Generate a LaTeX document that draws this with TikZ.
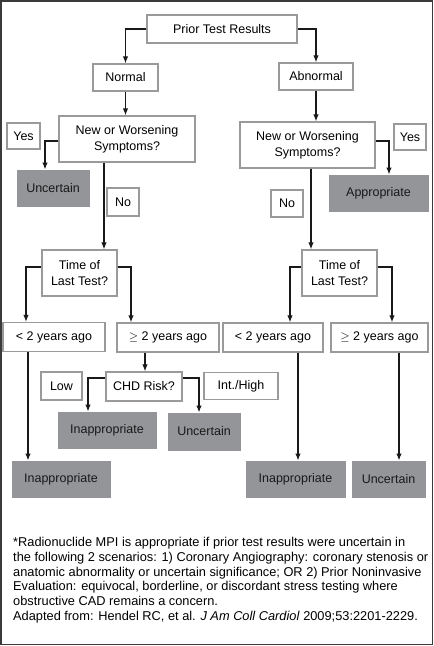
\documentclass[tikz,border=0pt]{standalone}
\usepackage{fontspec}
\setmainfont{Liberation Sans}
\usepackage{tikz}
\usetikzlibrary{arrows.meta}

\definecolor{boxline}{HTML}{9A9A9A}
\definecolor{resgray}{HTML}{939598}
\definecolor{frame}{HTML}{3A3A3A}

\begin{document}
\begin{tikzpicture}[x=1pt,y=-1pt,>={Latex[length=7pt,width=5.5pt]},
  font=\fontsize{12.5}{16}\selectfont,
  qbox/.style={draw=boxline,line width=1.3pt,fill=white,inner sep=0pt,align=center},
  rbox/.style={draw=resgray,fill=resgray,line width=1pt,inner sep=0pt,text=black!90},
  arr/.style={->,line width=1.2pt,black!90}]
\useasboundingbox (0,0) rectangle (434,646);
\draw[line width=1.3pt,frame] (1,1) rectangle (432.5,644.5);
% question boxes
\node[qbox,minimum width=150,minimum height=28] (prior) at (222,29) {Prior Test Results};
\node[qbox,minimum width=65,minimum height=27] (normal) at (125.5,77.5) {Normal};
\node[qbox,minimum width=74,minimum height=27] (abn) at (316,76.5) {Abnormal};
\node[qbox,minimum width=136,minimum height=46] (newL) at (127,139) {New or Worsening\\Symptoms?};
\node[qbox,minimum width=135,minimum height=46] (newR) at (307.5,145) {New or Worsening\\Symptoms?};
\node[qbox,minimum width=75,minimum height=46] (timeL) at (79.5,273) {Time of\\Last Test?};
\node[qbox,minimum width=75,minimum height=46] (timeR) at (339.5,273) {Time of\\Last Test?};
\node[qbox,minimum width=102,minimum height=29] (lt2L) at (54,337) {< 2 years ago};
\node[qbox,minimum width=102,minimum height=29] (ge2L) at (168,337.5) {$\geq$ 2 years ago};
\node[qbox,minimum width=100,minimum height=29] (lt2R) at (273,337.5) {< 2 years ago};
\node[qbox,minimum width=97,minimum height=29] (ge2R) at (379.5,337.5) {$\geq$ 2 years ago};
\node[qbox,minimum width=76,minimum height=29] (chd) at (144,386.5) {CHD Risk?};
% answer labels
\node[qbox,minimum width=33,minimum height=26] (yesL) at (23.5,136) {Yes};
\node[qbox,minimum width=32,minimum height=26] (yesR) at (410,137) {Yes};
\node[qbox,minimum width=32,minimum height=28] (noL) at (123,202) {No};
\node[qbox,minimum width=32,minimum height=27] (noR) at (287,203.5) {No};
\node[qbox,minimum width=41,minimum height=28] (low) at (61.5,386) {Low};
\node[qbox,minimum width=74,minimum height=27] (inthigh) at (241,386) {Int./High};
% results
\node[rbox,minimum width=72,minimum height=36] (uncL) at (53,188) {Uncertain};
\node[rbox,minimum width=99,minimum height=36] (appR) at (378.5,193) {Appropriate};
\node[rbox,minimum width=98,minimum height=36] (inapM) at (107,430) {Inappropriate};
\node[rbox,minimum width=72,minimum height=37] (uncM) at (204,431.5) {Uncertain};
\node[rbox,minimum width=98,minimum height=36] (inapL) at (61,479) {Inappropriate};
\node[rbox,minimum width=99,minimum height=36] (inapR) at (295.5,479) {Inappropriate};
\node[rbox,minimum width=73,minimum height=36] (uncR) at (388.5,479) {Uncertain};
% connectors
\draw[arr] (prior.west) -| (normal.north);
\draw[arr] (prior.east) -| (abn.north);
\draw[arr] (normal.south) -- (normal.south |- newL.north);
\draw[arr] (abn.south) -- (abn.south |- newR.north);
\draw[arr] ([yshift=-2]newL.west) -| ([xshift=-8]uncL.north);
\draw[arr] ([yshift=4]newR.east) -| ([xshift=10.5]appR.north);
\coordinate (nL) at ([xshift=-23]newL.south);
\coordinate (nR) at ([xshift=3.5]newR.south);
\draw[arr] (nL) -- (nL |- timeL.north);
\draw[arr] (nR) -- (nR |- timeR.north);
\draw[arr] ([yshift=6]timeL.west) -| ([xshift=-28]lt2L.north);
\draw[arr] ([yshift=6]timeL.east) -| ([xshift=-37]ge2L.north);
\draw[arr] ([yshift=6]timeR.west) -| ([xshift=17]lt2R.north);
\draw[arr] ([yshift=6]timeR.east) -| ([xshift=12.5]ge2R.north);
\coordinate (aL) at ([xshift=-26]lt2L.south);
\coordinate (aG) at ([xshift=-23]ge2L.south);
\coordinate (aR) at ([xshift=25]lt2R.south);
\coordinate (aS) at ([xshift=19.5]ge2R.south);
\draw[arr] (aL) -- (aL |- inapL.north);
\draw[arr] (aG) -- (aG |- chd.north);
\draw[arr] (aR) -- (aR |- inapR.north);
\draw[arr] (aS) -- (aS |- uncR.north);
\draw[arr] ([yshift=8.5]chd.west) -| ([xshift=-19]inapM.north);
\draw[arr] ([yshift=8.5]chd.east) -| ([xshift=-5]uncM.north);
% footnote
\node[anchor=north west,inner sep=0pt,align=left,font=\fontsize{12.8}{14.8}\selectfont] (note) at (13,537)
  {*Radionuclide MPI is appropriate if prior test results were uncertain in\\
   the following 2 scenarios: 1) Coronary Angiography: coronary stenosis or\\
   anatomic abnormality or uncertain significance; OR 2) Prior Noninvasive\\
   Evaluation: equivocal, borderline, or discordant stress testing where\\
   obstructive CAD remains a concern.\\
   Adapted from: Hendel RC, et al. \textit{J Am Coll Cardiol} 2009;53:2201-2229.};
\end{tikzpicture}
\end{document}
